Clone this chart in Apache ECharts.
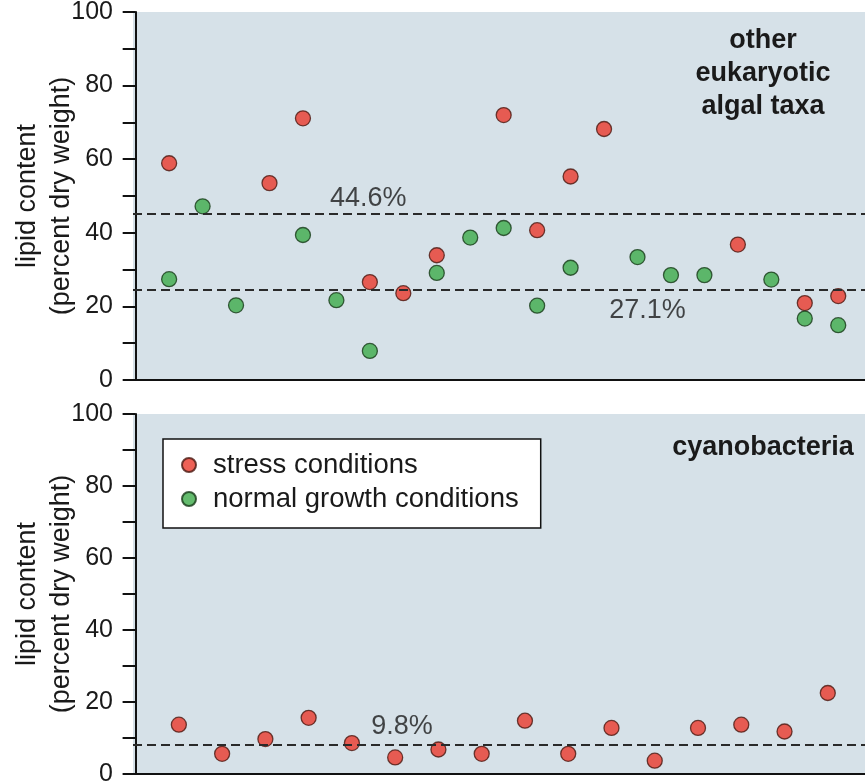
<!DOCTYPE html>
<html>
<head>
<meta charset="utf-8">
<script src="https://cdn.jsdelivr.net/npm/echarts@6/dist/echarts.min.js"></script>
<style>
html,body{margin:0;padding:0;background:#fff;}
#chart{width:865px;height:784px;}
</style>
</head>
<body>
<div id="chart"></div>
<script>
// ---- data ----
const stressTopX = [1, 4, 5, 7, 8, 9, 11, 12, 13, 14, 18, 20, 21];
const stressTopY = [58.9, 53.5, 71.1, 26.6, 23.6, 33.9, 72.0, 40.7, 55.3, 68.2, 36.8, 20.9, 22.8];
const normalTopX = [1, 2, 3, 5, 6, 7, 9, 10, 11, 12, 13, 15, 16, 17, 19, 20, 21];
const normalTopY = [27.4, 47.2, 20.3, 39.4, 21.7, 7.9, 29.1, 38.7, 41.3, 20.2, 30.5, 33.4, 28.5, 28.5, 27.3, 16.7, 14.9];
const stressBottomX = [1, 2, 3, 4, 5, 6, 7, 8, 9, 10, 11, 12, 13, 14, 15, 16];
const stressBottomY = [13.7, 5.6, 9.7, 15.6, 8.6, 4.6, 6.8, 5.6, 14.8, 5.6, 12.8, 3.7, 12.8, 13.7, 11.8, 22.5];
const meanTopLines = [45.3, 24.6];
const meanBottomLines = [8.1];
const topLabels = [[6.95, 49.3, '44.6%'], [15.3, 19.0, '27.1%']];
const bottomLabels = [[6.16, 13.1, '9.8%']];
const yTicks = [0, 20, 40, 60, 80, 100];
const seriesNames = ['stress conditions', 'normal growth conditions'];
const panelTitles = ['other\neukaryotic\nalgal taxa', 'cyanobacteria'];
const yName = 'lipid content\n(percent dry weight)';

const zip = (xs, ys) => xs.map((x, i) => [x, ys[i]]);
const FONT = 'Liberation Sans, Arial, Helvetica, sans-serif';
const TXT = '#1a1a1a';
const RED = { color: '#ea3a2c', borderColor: '#4a1810', borderWidth: 1.3 };
const GREEN = { color: '#3dab4a', borderColor: '#173a18', borderWidth: 1.3 };
const dash = { type: [9, 5], color: '#2a2a2a', width: 2 };

function yAxis(gi) {
  return {
    type: 'value', gridIndex: gi, min: 0, max: 100, interval: 10,
    name: yName, nameLocation: 'middle', nameGap: 54, nameRotate: 90, nameMoveOverlap: false,
    nameTextStyle: { fontFamily: FONT, fontSize: 27, color: TXT, lineHeight: 34 },
    axisLine: { show: true, lineStyle: { color: '#111', width: 2 } },
    axisTick: { show: true, length: 13, lineStyle: { color: '#111', width: 2 } },
    axisLabel: {
      margin: 20, fontFamily: FONT, fontSize: 25, color: TXT,
      formatter: v => (yTicks.indexOf(v) >= 0 ? String(v) : '')
    },
    splitLine: { show: false }
  };
}
function xAxis(gi, min, max) {
  return {
    type: 'value', gridIndex: gi, min: min, max: max,
    axisLine: { show: true, onZero: false, lineStyle: { color: '#111', width: 2 } },
    axisTick: { show: false }, axisLabel: { show: false }, splitLine: { show: false }
  };
}
function labelSeries(xi, data) {
  return {
    type: 'scatter', xAxisIndex: xi, yAxisIndex: xi, data: data,
    symbolSize: 1, itemStyle: { color: 'rgba(0,0,0,0)' }, silent: true, z: 5,
    label: { show: true, position: 'inside', formatter: p => p.value[2],
      fontFamily: FONT, fontSize: 27, color: TXT }
  };
}

const chart = echarts.init(document.getElementById('chart'), null, { renderer: 'canvas' });
chart.setOption({
  animation: false,
  backgroundColor: '#fff',
  title: [
    { text: panelTitles[0], left: 763, top: 24, padding: 0, textAlign: 'center',
      textStyle: { fontFamily: FONT, fontSize: 27, fontWeight: 'bold', color: TXT, lineHeight: 33 } },
    { text: panelTitles[1], left: 763, top: 431, padding: 0, textAlign: 'center',
      textStyle: { fontFamily: FONT, fontSize: 27, fontWeight: 'bold', color: TXT, lineHeight: 33 } }
  ],
  legend: {
    data: seriesNames, orient: 'vertical', left: 163, top: 439,
    padding: [12, 22, 15, 18], itemGap: 6, itemWidth: 38, itemHeight: 14,
    backgroundColor: '#fff', borderColor: '#111', borderWidth: 1.5, borderRadius: 0,
    icon: 'circle',
    textStyle: { fontFamily: FONT, fontSize: 27.5, color: TXT }
  },
  grid: [
    { left: 133, right: 0, top: 12, height: 368, show: true, backgroundColor: '#d6e1e8', borderWidth: 0,
      containLabel: false, outerBoundsMode: 'none' },
    { left: 133, right: 0, top: 414, height: 360, show: true, backgroundColor: '#d6e1e8', borderWidth: 0,
      containLabel: false, outerBoundsMode: 'none' }
  ],
  xAxis: [xAxis(0, -0.08, 21.8), xAxis(1, -0.06, 16.86)],
  yAxis: [yAxis(0), yAxis(1)],
  series: [
    { name: seriesNames[0], type: 'scatter', xAxisIndex: 0, yAxisIndex: 0,
      data: zip(stressTopX, stressTopY), symbolSize: 15, itemStyle: RED, z: 3,
      markLine: { silent: true, symbol: 'none', label: { show: false }, lineStyle: dash,
        data: meanTopLines.map(v => ({ yAxis: v })) } },
    { name: seriesNames[1], type: 'scatter', xAxisIndex: 0, yAxisIndex: 0,
      data: zip(normalTopX, normalTopY), symbolSize: 15, itemStyle: GREEN, z: 4 },
    { name: seriesNames[0], type: 'scatter', xAxisIndex: 1, yAxisIndex: 1,
      data: zip(stressBottomX, stressBottomY), symbolSize: 15, itemStyle: RED, z: 3,
      markLine: { silent: true, symbol: 'none', label: { show: false }, lineStyle: dash,
        data: meanBottomLines.map(v => ({ yAxis: v })) } },
    labelSeries(0, topLabels),
    labelSeries(1, bottomLabels)
  ]
});
</script>
</body>
</html>
